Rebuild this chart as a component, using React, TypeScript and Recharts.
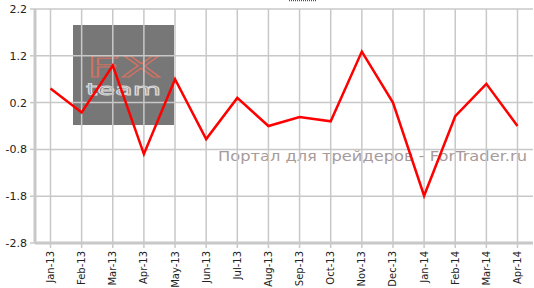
import React from "react";
import { LineChart, Line, XAxis, YAxis, ReferenceLine } from "recharts";

const categories = ["Jan-13","Feb-13","Mar-13","Apr-13","May-13","Jun-13","Jul-13","Aug-13","Sep-13","Oct-13","Nov-13","Dec-13","Jan-14","Feb-14","Mar-14","Apr-14"];
const values = [0.5, -0.01, 0.99, -0.9, 0.7, -0.58, 0.3, -0.3, -0.11, -0.2, 1.29, 0.2, -1.79, -0.09, 0.6, -0.3];
const yTicks = [-2.8, -1.8, -0.8, 0.2, 1.2, 2.2];

const data = categories.map((c, i) => ({ name: c, value: values[i] }));

const FONT = "Verdana, 'DejaVu Sans', sans-serif";

const XTick = (props: any) => {
  const { x, y, payload } = props;
  return (
    <g transform={`translate(${x},${y})`}>
      <text transform="rotate(-90)" x={-1} y={3.5} textAnchor="end" fontSize={10} fill="#222" fontFamily={FONT}>
        {payload.value}
      </text>
    </g>
  );
};

const YTick = (props: any) => {
  const { x, y, payload } = props;
  return (
    <text x={x - 1} y={y + 4} textAnchor="end" fontSize={11} fill="#222" fontFamily={FONT}>
      {payload.value.toFixed(1)}
    </text>
  );
};

export default function App() {
  return (
    <div style={{ position: "absolute", left: 0, top: 0, width: 534, height: 288, background: "#fff", overflow: "hidden" }}>
      <svg width={534} height={288} style={{ position: "absolute", left: 0, top: 0 }}>
        <rect x={73} y={25} width={101} height={100} fill="#777777" />
        <text x={86} y={77} fontSize={28} fontFamily="'DejaVu Sans', sans-serif" fill="none" stroke="#d07262" strokeWidth={1} textLength={75} lengthAdjust="spacingAndGlyphs">FX</text>
        <text x={86} y={95} fontSize={16} fontFamily="'DejaVu Sans', sans-serif" fill="none" stroke="#d8d8d8" strokeWidth={0.9} textLength={75} lengthAdjust="spacingAndGlyphs">team</text>
        <text x={218} y={161} fontSize={14} fontFamily={FONT} fill="#a89a9a" textLength={309} lengthAdjust="spacingAndGlyphs">Портал для трейдеров - ForTrader.ru</text>
        <line x1={289} y1={0.5} x2={316} y2={0.5} stroke="#1060c0" strokeWidth={1.5} strokeDasharray="1 1" />
      </svg>
      <div style={{ position: "absolute", left: 0, top: 0 }}>
        <LineChart width={534} height={288} data={data} margin={{ top: 9, right: 1, left: 0, bottom: 0 }}>
          <XAxis
            dataKey="name"
            height={45}
            interval={0}
            padding={{ left: 15.5, right: 15.5 }}
            tick={<XTick />}
            axisLine={{ stroke: "#c8c8c8", strokeWidth: 3 }}
            tickLine={{ stroke: "#c8c8c8", strokeWidth: 1.5 }}
            tickSize={5}
          />
          <YAxis
            domain={[-2.8, 2.2]}
            ticks={yTicks}
            width={35}
            interval={0}
            tick={<YTick />}
            axisLine={{ stroke: "#c8c8c8", strokeWidth: 3 }}
            tickLine={{ stroke: "#c8c8c8", strokeWidth: 1.5 }}
            tickSize={5}
          />
          {categories.map((c) => (
            <ReferenceLine key={"v" + c} x={c} stroke="#c8c8c8" strokeWidth={1.5} />
          ))}
          {yTicks.map((t) => (
            <ReferenceLine key={"h" + t} y={t} stroke="#c8c8c8" strokeWidth={1.5} />
          ))}
          <Line type="linear" dataKey="value" stroke="#ff0000" strokeWidth={2.5} dot={false} isAnimationActive={false} />
        </LineChart>
      </div>
    </div>
  );
}
